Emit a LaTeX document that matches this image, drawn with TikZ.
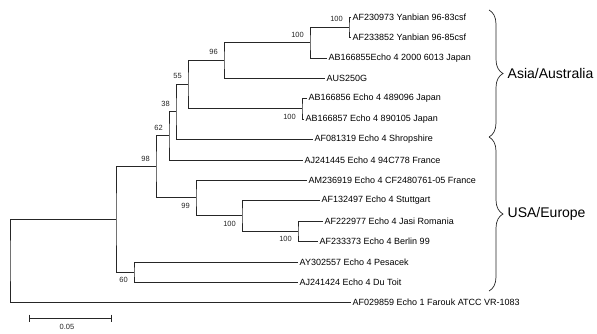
\documentclass[tikz,border=0pt]{standalone}
\usepackage{fontspec}
\setmainfont{Liberation Sans}
\usetikzlibrary{decorations.pathreplacing}

\begin{document}
\begin{tikzpicture}[x=1pt,y=-1pt,
branch/.style={draw=black!85,line width=0.7pt},
leaf/.style={anchor=west,inner sep=1.5pt,font=\fontsize{9}{10}\selectfont},
bsUp/.style={anchor=south east,inner sep=1.5pt,xshift=-4.5pt,yshift=3.5pt,text=black!85,font=\fontsize{7.5}{8}\selectfont},
bsDown/.style={anchor=north east,inner sep=1.5pt,xshift=-4.5pt,yshift=-4pt,text=black!85,font=\fontsize{7.5}{8}\selectfont},
group/.style={anchor=west,inner sep=1.5pt,font=\fontsize{14}{16}\selectfont},
groupBrace/.style={draw=black!85,line width=0.7pt,decorate,decoration={brace,amplitude=14pt}}]
\useasboundingbox (0,0) rectangle (597,333);

\node[leaf] (af230973) at (351,17) {AF230973 Yanbian 96-83csf};
\node[leaf] (af233852) at (351,37) {AF233852 Yanbian 96-85csf};
\node[leaf] (ab166855) at (327,58) {AB166855Echo 4 2000 6013 Japan};
\node[leaf] (aus250g) at (325,78) {AUS250G};
\node[leaf] (ab166856) at (307,98) {AB166856 Echo 4 489096 Japan};
\node[leaf] (ab166857) at (304,119) {AB166857 Echo 4 890105 Japan};
\node[leaf] (af081319) at (313,139) {AF081319 Echo 4 Shropshire};
\node[leaf] (aj241445) at (303,160) {AJ241445 Echo 4 94C778 France};
\node[leaf] (am236919) at (307,180) {AM236919 Echo 4 CF2480761-05 France};
\node[leaf] (af132497) at (320,200) {AF132497 Echo 4 Stuttgart};
\node[leaf] (af222977) at (323,221) {AF222977 Echo 4 Jasi Romania};
\node[leaf] (af233373) at (318,241) {AF233373 Echo 4 Berlin 99};
\node[leaf] (ay302557) at (298,262) {AY302557 Echo 4 Pesacek};
\node[leaf] (aj241424) at (298,282) {AJ241424 Echo 4 Du Toit};
\node[leaf] (af029859) at (351,302) {AF029859 Echo 1 Farouk ATCC VR-1083};

\coordinate (nA) at (349,27);
\coordinate (nB) at (310,42.5);
\coordinate (n96) at (224,60);
\coordinate (nC) at (302,108.5);
\coordinate (n55) at (188,84);
\coordinate (n38) at (176,111.5);
\coordinate (n62) at (169,135.7);
\coordinate (nE) at (298,231);
\coordinate (nD) at (242,215.5);
\coordinate (n99) at (196,197.7);
\coordinate (n98) at (156,166.7);
\coordinate (n60) at (134,272);
\coordinate (nIn) at (116,219.3);
\coordinate (root) at (10,260.7);

\draw[branch] (af230973.west) -| (nA) |- (af233852.west);
\draw[branch] (nA) -| (nB) |- (ab166855.west);
\draw[branch] (nB) -| (n96) |- (aus250g.west);
\draw[branch] (ab166856.west) -| (nC) |- (ab166857.west);
\draw[branch] (n96) -| (n55) |- (nC);
\draw[branch] (n55) -| (n38) |- (af081319.west);
\draw[branch] (n38) -| (n62) |- (aj241445.west);
\draw[branch] (af222977.west) -| (nE) |- (af233373.west);
\draw[branch] (af132497.west) -| (nD) |- (nE);
\draw[branch] (am236919.west) -| (n99) |- (nD);
\draw[branch] (n62) -| (n98) |- (n99);
\draw[branch] (ay302557.west) -| (n60) |- (aj241424.west);
\draw[branch] (n98) -| (nIn) |- (n60);
\draw[branch] (nIn) -| (root) |- (af029859.west);

\node[bsUp] (bsA) at (nA) {100};
\node[bsUp] (bsB) at (nB) {100};
\node[bsUp] (bs96) at (n96) {96};
\node[bsDown] (bsC) at (nC) {100};
\node[bsUp] (bs55) at (n55) {55};
\node[bsUp] (bs38) at (n38) {38};
\node[bsUp] (bs62) at (n62) {62};
\node[bsUp] (bs98) at (n98) {98};
\node[bsDown] (bs99) at (n99) {99};
\node[bsDown] (bsD) at (nD) {100};
\node[bsDown] (bsE) at (nE) {100};
\node[bsDown] (bs60) at (n60) {60};

\draw[groupBrace] (489,10) -- (489,137);
\draw[groupBrace] (489,137) -- (489,291);
\node[group] (asia) at (506,73.5) {Asia/Australia};
\node[group] (europe) at (506,214) {USA/Europe};

\coordinate (barL) at (29,318);
\coordinate (barR) at (111,318);
\draw[branch] (barL) -- (barR);
\draw[branch] (barL) ++(0,-3.5) -- ++(0,7);
\draw[branch] (barR) ++(0,-3.5) -- ++(0,7);
\node[anchor=north,inner sep=1.5pt,text=black!85,font=\fontsize{7.5}{8}\selectfont] (barLabel) at (67,322.5) {0.05};
\end{tikzpicture}
\end{document}
